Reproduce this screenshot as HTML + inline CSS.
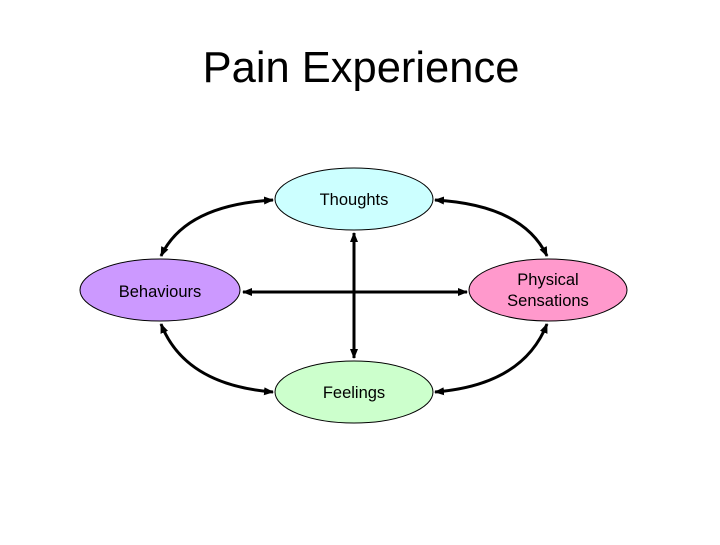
<!DOCTYPE html>
<html><head><style>body{margin:0;background:#fff}</style></head><body>
<svg width="720" height="540" xmlns="http://www.w3.org/2000/svg" font-family="Liberation Sans, Arial, sans-serif">
<defs><marker id="a" markerWidth="10" markerHeight="10" refX="9" refY="5" orient="auto-start-reverse" markerUnits="userSpaceOnUse"><path d="M0,1 L10,5 L0,9 Z" fill="#000"/></marker></defs>
<text x="361" y="82" font-size="43.5" text-anchor="middle">Pain Experience</text>
<g stroke="#000" stroke-width="3" fill="none" marker-start="url(#a)" marker-end="url(#a)">
<path d="M273,200 Q185,205 161,256"/>
<path d="M435,200 Q523,205 547,256"/>
<path d="M161,324 Q185,385 273,392"/>
<path d="M547,324 Q523,385 435,392"/>
<path d="M243,292 L467,292"/>
<path d="M354,233 L354,358"/>
</g>
<g stroke="#000" stroke-width="1">
<ellipse cx="354" cy="199" rx="79" ry="31" fill="#ccffff"/>
<ellipse cx="160" cy="290" rx="80" ry="31" fill="#cc99ff"/>
<ellipse cx="548" cy="290" rx="79" ry="31" fill="#ff99cc"/>
<ellipse cx="354" cy="392" rx="79" ry="31" fill="#ccffcc"/>
</g>
<g font-size="16.5" text-anchor="middle">
<text x="354" y="205">Thoughts</text>
<text x="160" y="297">Behaviours</text>
<text x="548" y="285">Physical</text>
<text x="548" y="306">Sensations</text>
<text x="354" y="398">Feelings</text>
</g>
</svg>
</body></html>
